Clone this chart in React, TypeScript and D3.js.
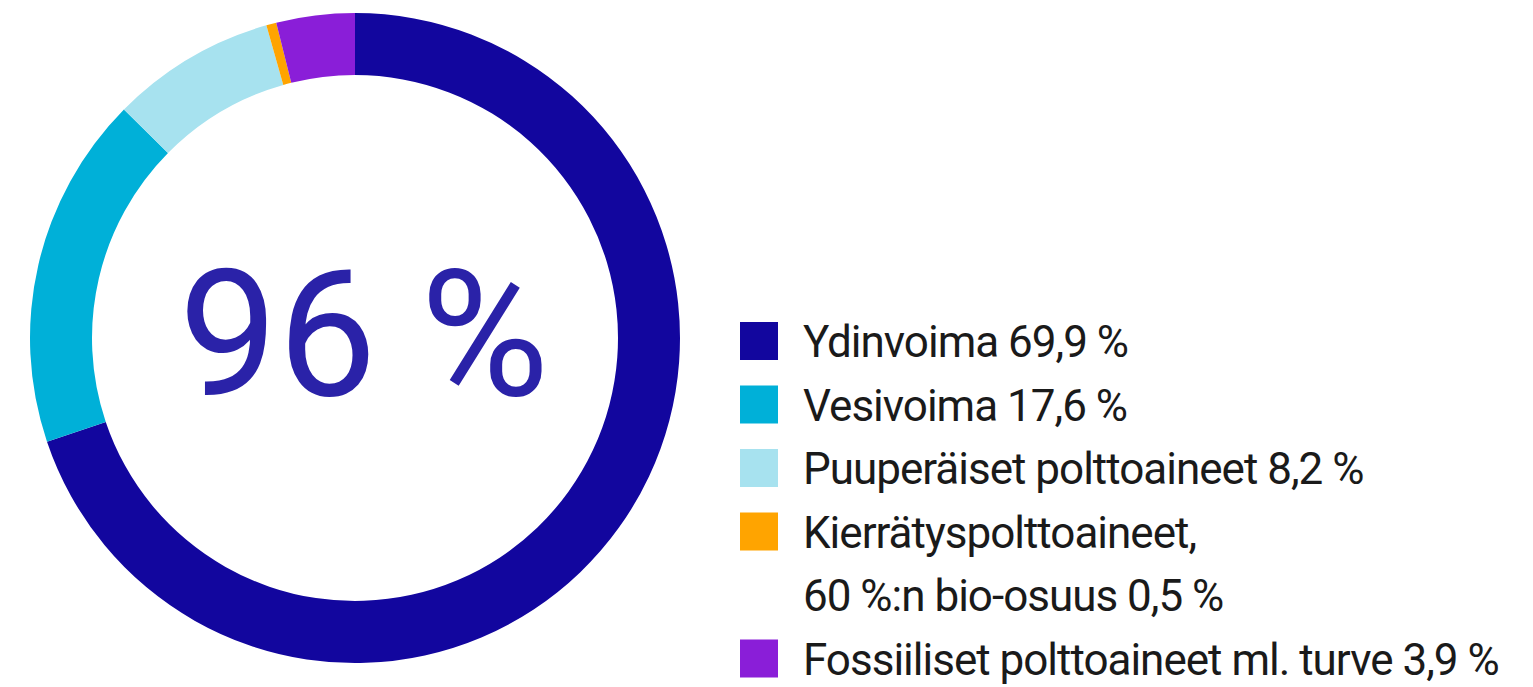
import React, { useEffect, useRef } from "react";
import * as d3 from "d3";

// data
const labels = [
  ["Ydinvoima 69,9 %"],
  ["Vesivoima 17,6 %"],
  ["Puuperäiset polttoaineet 8,2 %"],
  ["Kierrätyspolttoaineet,", "60 %:n bio-osuus 0,5 %"],
  ["Fossiiliset polttoaineet ml. turve 3,9 %"],
];
const values = [69.9, 17.6, 8.2, 0.5, 3.9];
const colors = ["#12069e", "#00b0d8", "#a7e2ef", "#ffa400", "#8a1ed8"];
const centerLabel = "96 %";

const width = 1533;
const height = 687;

export default function App() {
  const ref = useRef<SVGSVGElement>(null);

  useEffect(() => {
    const svg = d3.select(ref.current);
    svg.selectAll("*").remove();

    const cx = 355;
    const cy = 338;
    const outerR = 325;
    const innerR = 263;

    const pie = d3.pie<number>().sort(null).value((d) => d);
    const arc = d3.arc<d3.PieArcDatum<number>>().innerRadius(innerR).outerRadius(outerR);

    const g = svg.append("g").attr("transform", `translate(${cx},${cy})`);
    g.selectAll("path")
      .data(pie(values))
      .enter()
      .append("path")
      .attr("d", arc)
      .attr("fill", (d, i) => colors[i]);

    g.append("text")
      .attr("x", 9)
      .attr("y", 57)
      .attr("text-anchor", "middle")
      .attr("font-family", "Roboto, sans-serif")
      .attr("font-size", 176)
      .attr("fill", "#2a22a8")
      .text(centerLabel);

    // legend
    const lineH = 63.5;
    const legend = svg.append("g").attr("transform", "translate(740,0)");
    let line = 0;
    labels.forEach((lines, i) => {
      const baseline = 357 + line * lineH;
      legend
        .append("rect")
        .attr("x", 0)
        .attr("y", baseline - 35)
        .attr("width", 38)
        .attr("height", 38)
        .attr("fill", colors[i]);
      lines.forEach((t, j) => {
        legend
          .append("text")
          .attr("x", 63)
          .attr("y", baseline + j * lineH)
          .attr("font-family", "Roboto, sans-serif")
          .attr("font-size", 44)
          .attr("letter-spacing", -1)
          .attr("fill", "#1a1a1a")
          .text(t);
      });
      line += lines.length;
    });
  }, []);

  return (
    <svg
      ref={ref}
      width={width}
      height={height}
      style={{ position: "absolute", left: 0, top: 0, background: "#fff" }}
    />
  );
}
